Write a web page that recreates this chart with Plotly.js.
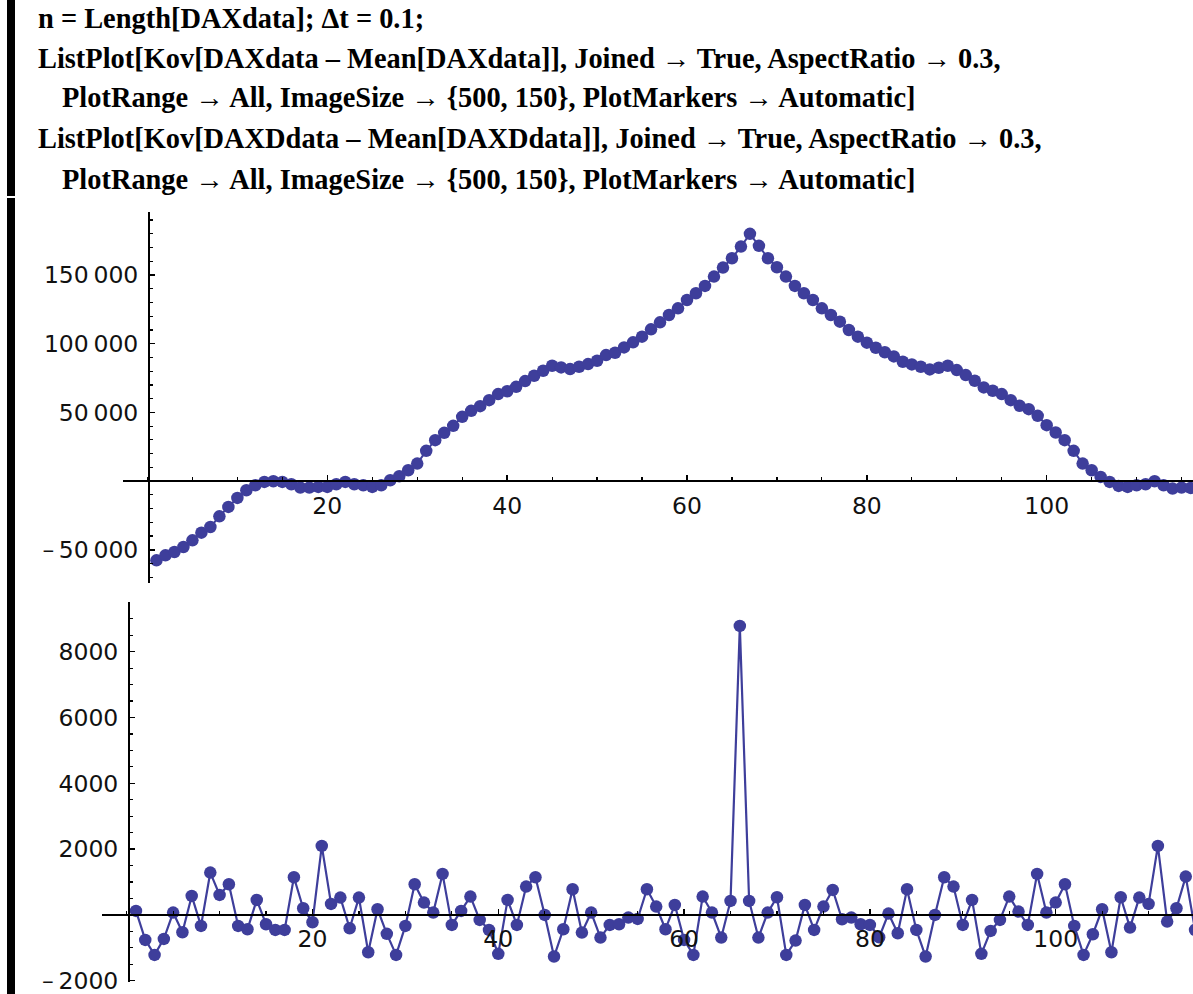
<!DOCTYPE html>
<html>
<head>
<meta charset="utf-8">
<script src="https://cdn.plot.ly/plotly-3.0.1.min.js"></script>
<style>html,body{margin:0;padding:0;background:#fff;}#chart{width:1193px;height:994px;}</style>
</head>
<body>
<div id="chart"></div>
<script>
// Code lines shown above the plots
const codeLines = [
  "n = Length[DAXdata]; \u0394t = 0.1;",
  "ListPlot[Kov[DAXdata \u2013 Mean[DAXdata]], Joined \u2192 True, AspectRatio \u2192 0.3,",
  "PlotRange \u2192 All, ImageSize \u2192 {500, 150}, PlotMarkers \u2192 Automatic]",
  "ListPlot[Kov[DAXDdata \u2013 Mean[DAXDdata]], Joined \u2192 True, AspectRatio \u2192 0.3,",
  "PlotRange \u2192 All, ImageSize \u2192 {500, 150}, PlotMarkers \u2192 Automatic]"
];
const codeIndent = [false, false, true, false, true];

// Top plot: Kov[DAXdata - Mean[DAXdata]]
const topIndex = Array.from({length: 116}, (_, k) => k + 1);
const topValues = [
  -57700, -54070, -51640, -48000, -43130, -37540, -33410, -25640, -18830, -12270,
  -6680, -3040, -600, -120, -600, -2300, -4740, -4740, -4250, -4250,
  -2300, -600, -2300, -3040, -4250, -3040, 600, 3520, 7900, 12760,
  21990, 29770, 35110, 40220, 46780, 51150, 54550, 58920, 63300, 65400,
  68600, 72780, 76670, 80310, 83960, 82740, 81530, 83230, 85170, 87600,
  91730, 93430, 97320, 100970, 105100, 110440, 115550, 120890, 125750, 131830,
  136690, 142030, 148840, 155400, 162200, 170710, 179950, 171200, 162200, 155640,
  148840, 142030, 136690, 131830, 125750, 120890, 116030, 109960, 105100, 100730,
  97080, 93800, 90760, 86870, 84930, 83230, 81290, 82500, 83960, 80800,
  77160, 73020, 68160, 65730, 63300, 58920, 54790, 52360, 47500, 40700,
  35350, 29770, 21990, 12760, 7900, 3040, -610, -3520, -4250, -3040,
  -2310, -120, -3040, -5470, -4740, -5000
];
const topTickVals = [-50000, 50000, 100000, 150000];
const topTickText = ["\u2013\u200950\u2009000", "50\u2009000", "100\u2009000", "150\u2009000"];

// Bottom plot: Kov[DAXDdata - Mean[DAXDdata]]
const botIndex = Array.from({length: 115}, (_, k) => k + 1);
const botValues = [
  122, -760, -1216, -730, 71, -527, 577, -334, 1287, 608,
  932, -334, -436, 456, -284, -456, -456, 1145, 203, -223,
  2097, 334, 527, -405, 527, -1135, 172, -577, -1216, -334,
  932, 375, 71, 1246, -304, 122, 557, -152, -456, -1185,
  456, -304, 861, 1145, 0, -1266, -436, 780, -537, 71,
  -689, -304, -284, -81, -122, 780, 253, -436, 304, -760,
  -1216, 557, 71, -689, 425, 8786, 425, -689, 71, 537,
  -1216, -780, 304, -456, 253, 760, -132, -81, -284, -304,
  -680, 40, -557, 780, -456, -1266, 0, 1145, 861, -304,
  456, -1185, -486, -152, 557, 101, -304, 1246, 71, 375,
  932, -334, -1216, -588, 172, -1135, 537, -385, 527, 334,
  2097, -203, 203, 1165, -456
];
const botTickVals = [-2000, 2000, 4000, 6000, 8000];
const botTickText = ["\u2013\u20092000", "2000", "4000", "6000", "8000"];

const xTickVals = [20, 40, 60, 80, 100];
const xTickText = ["20", "40", "60", "80", "100"];

const W = 1193, H = 994;
const markColor = "rgb(62,62,155)";
const tickFont = {family: "DejaVu Sans", size: 23.5, color: "#111"};

function px(x) { return x / W; }
function py(y) { return 1 - y / H; }

const traces = [
  {x: topIndex, y: topValues, xaxis: "x", yaxis: "y", mode: "lines+markers",
   line: {color: markColor, width: 2}, marker: {color: markColor, size: 12.5}, hoverinfo: "skip"},
  {x: botIndex, y: botValues, xaxis: "x2", yaxis: "y2", mode: "lines+markers",
   line: {color: markColor, width: 2.2}, marker: {color: markColor, size: 12.5}, hoverinfo: "skip"}
];

function xAxis(domainLeft, range, posY, standoff) {
  return {
    domain: [px(domainLeft), 1], range: range, anchor: "free", position: py(posY),
    showline: true, linecolor: "#000", linewidth: 2, zeroline: false, showgrid: false,
    ticks: "inside", ticklen: 5, tickwidth: 1.5, tickcolor: "#000",
    tickmode: "array", tickvals: xTickVals, ticktext: xTickText, tickfont: tickFont,
    ticklabelstandoff: standoff, ticklabeloverflow: "allow",
    minor: {ticks: "inside", tick0: 0, dtick: 5, ticklen: 3, tickwidth: 1.2, tickcolor: "#000", showgrid: false}
  };
}
function yAxis(top, bottom, range, posX, vals, text, minorStep) {
  return {
    domain: [py(bottom), py(top)], range: range, anchor: "free", position: px(posX),
    showline: true, linecolor: "#000", linewidth: 2, zeroline: false, showgrid: false,
    ticks: "inside", ticklen: 5, tickwidth: 1.5, tickcolor: "#000",
    tickmode: "array", tickvals: vals, ticktext: text, tickfont: tickFont,
    ticklabelstandoff: 5, ticklabeloverflow: "allow",
    minor: {ticks: "inside", tick0: 0, dtick: minorStep, ticklen: 3, tickwidth: 1.2, tickcolor: "#000", showgrid: false}
  };
}

const codeY = [18, 58, 98, 139, 180];
const annotations = codeLines.map((t, k) => ({
  text: "<b>" + t + "</b>", xref: "paper", yref: "paper",
  x: px(codeIndent[k] ? 60 : 36), y: py(codeY[k]), xanchor: "left", yanchor: "middle",
  showarrow: false, font: {family: "Liberation Serif", size: 28.4, color: "#000"}
}));

const layout = {
  width: W, height: H, margin: {l: 0, r: 0, t: 0, b: 0, pad: 0},
  paper_bgcolor: "#fff", plot_bgcolor: "rgba(0,0,0,0)", showlegend: false,
  xaxis: xAxis(123, [-2.72, 116.27], 481, 4),
  yaxis: yAxis(212, 583, [-74180, 195855], 149, topTickVals, topTickText, 10000),
  xaxis2: xAxis(101.7, [-2.69, 114.78], 915, 3),
  yaxis2: yAxis(601.7, 981.7, [-2031, 9521], 129, botTickVals, botTickText, 500),
  annotations: annotations,
  shapes: [
    {type: "rect", xref: "paper", yref: "paper", x0: px(7), x1: px(15), y0: py(0), y1: py(196), fillcolor: "#000", line: {width: 0}},
    {type: "rect", xref: "paper", yref: "paper", x0: px(7), x1: px(15), y0: py(198), y1: py(994), fillcolor: "#000", line: {width: 0}}
  ]
};

Plotly.newPlot("chart", traces, layout, {staticPlot: true, displayModeBar: false});
</script>
</body>
</html>
